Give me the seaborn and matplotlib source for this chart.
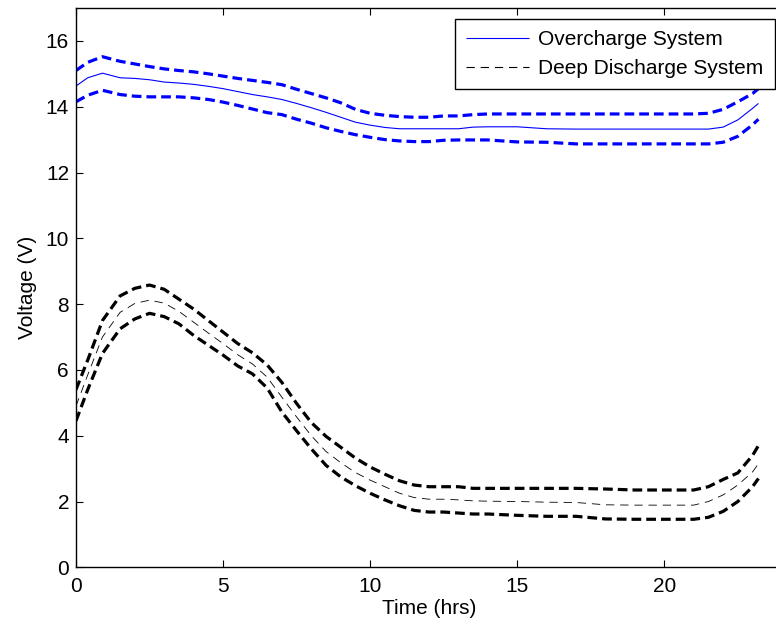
"""Battery voltage bands for the overcharge and deep discharge systems."""

import matplotlib

matplotlib.use("Agg")

import matplotlib.pyplot as plt
import pandas as pd
import seaborn as sns
from matplotlib.lines import Line2D

# hours, shared by every curve
hours = [0.0, 0.4, 0.9, 1.5, 2.0, 2.5, 3.0, 3.5, 4.0, 4.5, 5.0, 5.5, 6.0, 6.5,
         7.0, 7.5, 8.0, 8.5, 9.0, 9.5, 10.0, 10.5, 11.0, 11.5, 12.0, 12.5,
         13.0, 13.5, 14.0, 15.0, 16.0, 17.0, 18.0, 19.0, 20.0, 21.0, 21.5,
         22.0, 22.5, 23.0, 23.2]

# overcharge system (blue): mean and upper / lower band
over_mid = [14.63, 14.88, 15.02, 14.88, 14.86, 14.82, 14.75, 14.72, 14.68,
            14.62, 14.55, 14.46, 14.37, 14.30, 14.22, 14.10, 13.97, 13.83,
            13.68, 13.53, 13.44, 13.37, 13.33, 13.33, 13.33, 13.33, 13.33,
            13.38, 13.39, 13.39, 13.33, 13.32, 13.32, 13.32, 13.32, 13.32,
            13.32, 13.38, 13.60, 13.95, 14.10]
over_hi = [15.10, 15.35, 15.52, 15.38, 15.30, 15.22, 15.15, 15.10, 15.06,
           15.00, 14.93, 14.86, 14.80, 14.74, 14.67, 14.53, 14.40, 14.27,
           14.12, 13.92, 13.80, 13.74, 13.70, 13.68, 13.68, 13.72, 13.72,
           13.76, 13.78, 13.78, 13.78, 13.78, 13.78, 13.78, 13.78, 13.78,
           13.80, 13.92, 14.15, 14.40, 14.55]
over_lo = [14.15, 14.35, 14.50, 14.37, 14.32, 14.30, 14.30, 14.30, 14.27,
           14.22, 14.14, 14.04, 13.93, 13.82, 13.76, 13.62, 13.50, 13.36,
           13.25, 13.15, 13.07, 13.00, 12.96, 12.94, 12.94, 12.98, 12.99,
           12.99, 12.99, 12.93, 12.92, 12.87, 12.87, 12.87, 12.87, 12.87,
           12.87, 12.92, 13.10, 13.45, 13.62]

# deep discharge system (black): mean and upper / lower band
deep_mid = [4.90, 5.85, 7.00, 7.75, 8.02, 8.12, 8.03, 7.78, 7.45, 7.12,
            6.80, 6.46, 6.18, 5.78, 5.17, 4.57, 4.00, 3.52, 3.18, 2.88,
            2.65, 2.45, 2.25, 2.12, 2.07, 2.07, 2.05, 2.02, 2.01, 2.00,
            1.98, 1.97, 1.90, 1.89, 1.89, 1.89, 2.00, 2.20, 2.50, 2.90, 3.15]
deep_hi = [5.40, 6.30, 7.50, 8.25, 8.48, 8.58, 8.45, 8.15, 7.85, 7.50,
           7.15, 6.80, 6.52, 6.15, 5.62, 4.98, 4.40, 3.98, 3.65, 3.32,
           3.05, 2.83, 2.63, 2.50, 2.45, 2.45, 2.45, 2.40, 2.40, 2.40,
           2.40, 2.40, 2.38, 2.35, 2.35, 2.35, 2.45, 2.67, 2.87, 3.40, 3.70]
deep_lo = [4.45, 5.40, 6.50, 7.25, 7.55, 7.72, 7.62, 7.40, 7.05, 6.75,
           6.45, 6.12, 5.88, 5.45, 4.72, 4.15, 3.60, 3.10, 2.75, 2.48,
           2.25, 2.05, 1.87, 1.73, 1.68, 1.68, 1.65, 1.62, 1.62, 1.58,
           1.55, 1.55, 1.47, 1.46, 1.46, 1.46, 1.52, 1.70, 2.00, 2.45, 2.70]

legend_labels = ["Overcharge System", "Deep Discharge System"]

BLUE = "#0000ff"
BAND_DASH = (0, (7.0, 3.6))
MID_DASH = (0, (6.0, 4.2))

sns.set_style("ticks")
plt.rcParams["font.family"] = ["Liberation Sans", "DejaVu Sans"]
plt.rcParams["lines.scale_dashes"] = False
plt.rcParams["lines.solid_capstyle"] = "butt"
plt.rcParams["lines.dash_capstyle"] = "butt"
plt.rcParams["text.color"] = "black"
plt.rcParams["axes.labelcolor"] = "black"

df = pd.DataFrame({
    "hours": hours,
    "over_mid": over_mid, "over_hi": over_hi, "over_lo": over_lo,
    "deep_mid": deep_mid, "deep_hi": deep_hi, "deep_lo": deep_lo,
})

fig = plt.figure(figsize=(7.76, 6.27), dpi=100)
ax = fig.add_axes([0.0979, 0.0952, 0.9098, 0.892])

for col in ["over_hi", "over_lo"]:
    sns.lineplot(data=df, x="hours", y=col, color=BLUE, linewidth=2.3,
                 linestyle=BAND_DASH, ax=ax)
sns.lineplot(data=df, x="hours", y="over_mid", color=BLUE, linewidth=0.8, ax=ax)

for col in ["deep_hi", "deep_lo"]:
    sns.lineplot(data=df, x="hours", y=col, color="black", linewidth=2.3,
                 linestyle=BAND_DASH, ax=ax)
sns.lineplot(data=df, x="hours", y="deep_mid", color="black", linewidth=0.6,
             linestyle=MID_DASH, ax=ax)

ax.set_xlim(0, 24)
ax.set_ylim(0, 17)
ax.set_xticks([0, 5, 10, 15, 20])
ax.set_yticks([0, 2, 4, 6, 8, 10, 12, 14, 16])
ax.tick_params(direction="in", length=5, width=0.8, labelsize=15,
               top=True, right=False, colors="black", labelcolor="black")
ax.tick_params(axis="x", pad=7)
ax.tick_params(axis="y", pad=5)
for spine in ax.spines.values():
    spine.set_linewidth(1.0)
    spine.set_color("black")

ax.set_xlabel("Time (hrs)", fontsize=15, labelpad=2, color="black")
ax.set_ylabel("Voltage (V)", fontsize=15, labelpad=6, color="black")

handles = [
    Line2D([], [], color=BLUE, linewidth=0.8),
    Line2D([], [], color="black", linewidth=0.8, linestyle=MID_DASH),
]
leg = ax.legend(handles, legend_labels, loc="upper right",
                bbox_to_anchor=(775 / 776, 1 - 19 / 627),
                bbox_transform=fig.transFigure, borderaxespad=0,
                fontsize=15, handlelength=3.0, handletextpad=0.45,
                labelspacing=0.45, borderpad=0.55, fancybox=False,
                framealpha=1, edgecolor="black")
leg.get_frame().set_linewidth(1.0)
for text in leg.get_texts():
    text.set_color("black")

fig.savefig("out.png", dpi=100)
